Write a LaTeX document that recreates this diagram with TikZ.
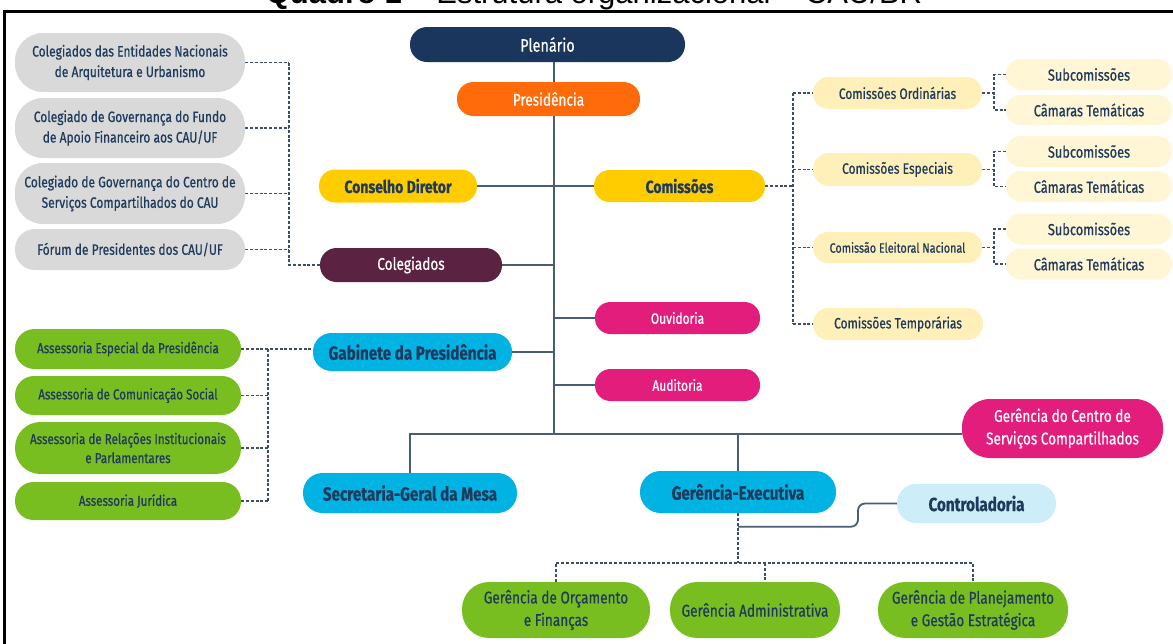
\documentclass[tikz,border=0pt]{standalone}
\usepackage{fontspec}
\setmainfont{Liberation Sans}
\newfontfamily\cf[FakeStretch=0.8, FakeBold=0.6, BoldFont={Fira Sans Bold}, BoldFeatures={FakeStretch=0.8}]{Fira Sans}
\usetikzlibrary{calc}
\definecolor{navy}{HTML}{1F3A5C}
\definecolor{plen}{HTML}{1A365D}
\definecolor{orng}{HTML}{FF6A0A}
\definecolor{yell}{HTML}{FFCC00}
\definecolor{maroon}{HTML}{5C2241}
\definecolor{grayb}{HTML}{D9D9D9}
\definecolor{cyanb}{HTML}{00B3E3}
\definecolor{magb}{HTML}{E31D7B}
\definecolor{lcyan}{HTML}{CDEEF8}
\definecolor{lyel}{HTML}{FFF0BA}
\definecolor{lyel2}{HTML}{FFF6D6}
\definecolor{greenb}{HTML}{78BE20}
\definecolor{lc}{HTML}{4A5D78}
\definecolor{dc}{HTML}{3C4E6B}
\pgfdeclarelayer{bg}
\pgfsetlayers{bg,main}
\tikzset{
  pill/.style n args={3}{shape=rectangle, inner sep=0pt, align=center,
    minimum width=#1pt, minimum height=#2pt, rounded corners=#3pt, draw=none, text=navy},
  f14/.style={font=\cf\fontsize{15}{20.5}\selectfont},
  f13/.style={font=\cf\fontsize{14.5}{19}\selectfont},
  f12/.style={font=\cf\fontsize{13.5}{15}\selectfont},
  f15/.style={font=\cf\fontsize{16}{18}\selectfont},
  f16/.style={font=\cf\fontsize{17}{22.5}\selectfont},
  f17/.style={font=\cf\fontsize{18}{20}\selectfont},
  b16/.style={font=\cf\bfseries\fontsize{17.5}{20}\selectfont},
  b17/.style={font=\cf\bfseries\fontsize{19}{20}\selectfont},
  conn/.style={draw=lc, line width=1.8pt},
  dl/.style={draw=dc, line width=1.4pt, dash pattern=on 3pt off 1.8pt},
}
\begin{document}
\begin{tikzpicture}[x=1pt,y=-1pt]
\useasboundingbox (0,0) rectangle (1173,643);
\begin{scope}
  \clip (0,0) rectangle (1173,643);
  \node[anchor=base, font=\fontsize{31}{31}\selectfont, inner sep=0pt] (title) at (594,3.5)
    {\textbf{Quadro 1 –} Estrutura organizacional – CAU/BR};
  \draw[line width=3pt] (4.5,1200) -- (4.5,11.5) -- (1300,11.5);
\end{scope}

% central column
\node[pill={275}{35}{17}, fill=plen, text=white, f17] (plen) at (547.5,44.5) {Plenário};
\node[pill={183}{34}{16.5}, fill=orng, text=white, f16] (pres) at (548.5,99) {Presidência};
\node[pill={158}{33}{16}, fill=yell, b16] (cd) at (398,186) {Conselho Diretor};
\node[pill={171}{32}{15.5}, fill=yell, b16] (com) at (679.5,186) {Comissões};
\node[pill={182}{34}{16.5}, fill=maroon, text=white, f16] (col) at (411,265) {Colegiados};
\node[pill={199}{38}{18.5}, fill=cyanb, b17] (gab) at (412.5,352) {Gabinete da Presidência};
\node[pill={165}{32}{15.5}, fill=magb, text=white, f14] (ouv) at (677.5,318) {Ouvidoria};
\node[pill={165}{32}{15.5}, fill=magb, text=white, f14] (aud) at (677.5,385) {Auditoria};
\node[pill={201}{59}{28}, fill=magb, text=white, f16] (gcs) at (1062.5,428.5) {Gerência do Centro de\\Serviços Compartilhados};
\node[pill={214}{40}{19.5}, fill=cyanb, b17] (sec) at (410,493) {Secretaria-Geral da Mesa};
\node[pill={196}{42}{20.5}, fill=cyanb, b17] (gex) at (738,492) {Gerência-Executiva};
\node[pill={159}{39}{19}, fill=lcyan, b17] (ctl) at (976.5,503.5) {Controladoria};
\node[pill={188}{56}{27}, fill=greenb, f16] (orc) at (556,610) {Gerência de Orçamento\\e Finanças};
\node[pill={170}{56}{27}, fill=greenb, f16] (adm) at (755,610) {Gerência Administrativa};
\node[pill={190}{56}{27}, fill=greenb, f16] (pla) at (973,610) {Gerência de Planejamento\\e Gestão Estratégica};

% gray colegiados
\node[pill={230}{59}{28}, fill=grayb, f14] (g1) at (130,62.5) {Colegiados das Entidades Nacionais\\de Arquitetura e Urbanismo};
\node[pill={230}{60}{28}, fill=grayb, f14] (g2) at (130,128) {Colegiado de Governança do Fundo\\de Apoio Financeiro aos CAU/UF};
\node[pill={230}{61}{28}, fill=grayb, f14] (g3) at (130,193.5) {Colegiado de Governança do Centro de\\Serviços Compartilhados do CAU};
\node[pill={230}{41}{20}, fill=grayb, f14] (g4) at (130,249.5) {Fórum de Presidentes dos CAU/UF};

% green assessorias
\node[pill={226}{40}{19.5}, fill=greenb, f13] (a1) at (128,349) {Assessoria Especial da Presidência};
\node[pill={226}{39}{19}, fill=greenb, f13] (a2) at (128,395.5) {Assessoria de Comunicação Social};
\node[pill={226}{52}{25.5}, fill=greenb, f13] (a3) at (128,448) {Assessoria de Relações Institucionais\\e Parlamentares};
\node[pill={226}{38}{18.5}, fill=greenb, f13] (a4) at (128,501) {Assessoria Jurídica};

% comissões
\node[pill={169}{32}{15.5}, fill=lyel, f14] (co) at (897.5,93) {Comissões Ordinárias};
\node[pill={169}{33}{16}, fill=lyel, f14] (ce) at (897.5,169.5) {Comissões Especiais};
\node[pill={169}{31}{15}, fill=lyel, f12] (cen) at (897.5,247.5) {Comissão Eleitoral Nacional};
\node[pill={170}{32}{15.5}, fill=lyel, f14] (ct) at (898,324) {Comissões Temporárias};
\node[pill={166}{31}{15}, fill=lyel2, f15] (s1) at (1089,74.5) {Subcomissões};
\node[pill={166}{30}{14.5}, fill=lyel2, f15] (c1) at (1089,110) {Câmaras Temáticas};
\node[pill={166}{31}{15}, fill=lyel2, f15] (s2) at (1089,151.5) {Subcomissões};
\node[pill={166}{31}{15}, fill=lyel2, f15] (c2) at (1089,186.5) {Câmaras Temáticas};
\node[pill={166}{31}{15}, fill=lyel2, f15] (s3) at (1089,229) {Subcomissões};
\node[pill={166}{31}{15}, fill=lyel2, f15] (c3) at (1089,264) {Câmaras Temáticas};

% junction coordinates
\coordinate (mx) at (554,0);
\coordinate (bar) at (554,434);
\coordinate (gx) at (289,0);
\coordinate (ax) at (268,0);
\coordinate (rx) at (793,0);
\coordinate (bx) at (994,0);
\coordinate (by) at (0,563);
\coordinate (ck) at (858,0);
\coordinate (cj) at ($(gex.south)+(0,13.5)$);
\coordinate (admdrop) at ($(adm.north)+(10,0)$);

\begin{pgfonlayer}{bg}
  % solid connectors
  \draw[conn] (plen.south -| mx) -- (bar);
  \draw[conn] (cd.east) -- (com.west);
  \draw[conn] (col.east) -- (col.east -| mx);
  \draw[conn] (gab.east) -- (gab.east -| mx);
  \draw[conn] (ouv.west) -- (ouv.west -| mx);
  \draw[conn] (aud.west) -- (aud.west -| mx);
  \draw[conn] (sec.north) -- (sec.north |- bar) -- (gcs.west |- bar);
  \draw[conn] (gex.north) -- (gex.north |- bar);
  \draw[conn, rounded corners=7pt] (ctl.west) -- (ctl.west -| ck) -- (cj -| ck) -- (cj);
  % gray side
  \foreach \n in {g1,g2,g3,g4} \draw[dl] (\n.east) -- (\n.east -| gx);
  \draw[dl] (g1.east -| gx) -- (col.west -| gx) -- (col.west);
  % green side
  \draw[dl] (a1.east) -- (gab.west |- a1.east);
  \foreach \n in {a2,a3,a4} \draw[dl] (\n.east) -- (\n.east -| ax);
  \draw[dl] (a1.east -| ax) -- (a4.east -| ax);
  % comissões
  \draw[dl] (com.east) -- (com.east -| rx);
  \draw[dl] (co.west -| rx) -- (ct.west -| rx);
  \foreach \n in {co,ce,cen,ct} \draw[dl] (\n.west -| rx) -- (\n.west);
  \foreach \p/\s/\c in {co/s1/c1, ce/s2/c2, cen/s3/c3} {
    \draw[dl] (\p.east) -- (\p.east -| bx);
    \draw[dl] (\s.west) -- (\s.west -| bx) -- (\c.west -| bx) -- (\c.west);
  }
  % gerências
  \draw[dl] (gex.south) -- (gex.south |- by);
  \draw[dl] (orc.north) -- (orc.north |- by) -- (pla.north |- by) -- (pla.north);
  \draw[dl] (admdrop |- by) -- (admdrop);
\end{pgfonlayer}
\end{tikzpicture}
\end{document}
